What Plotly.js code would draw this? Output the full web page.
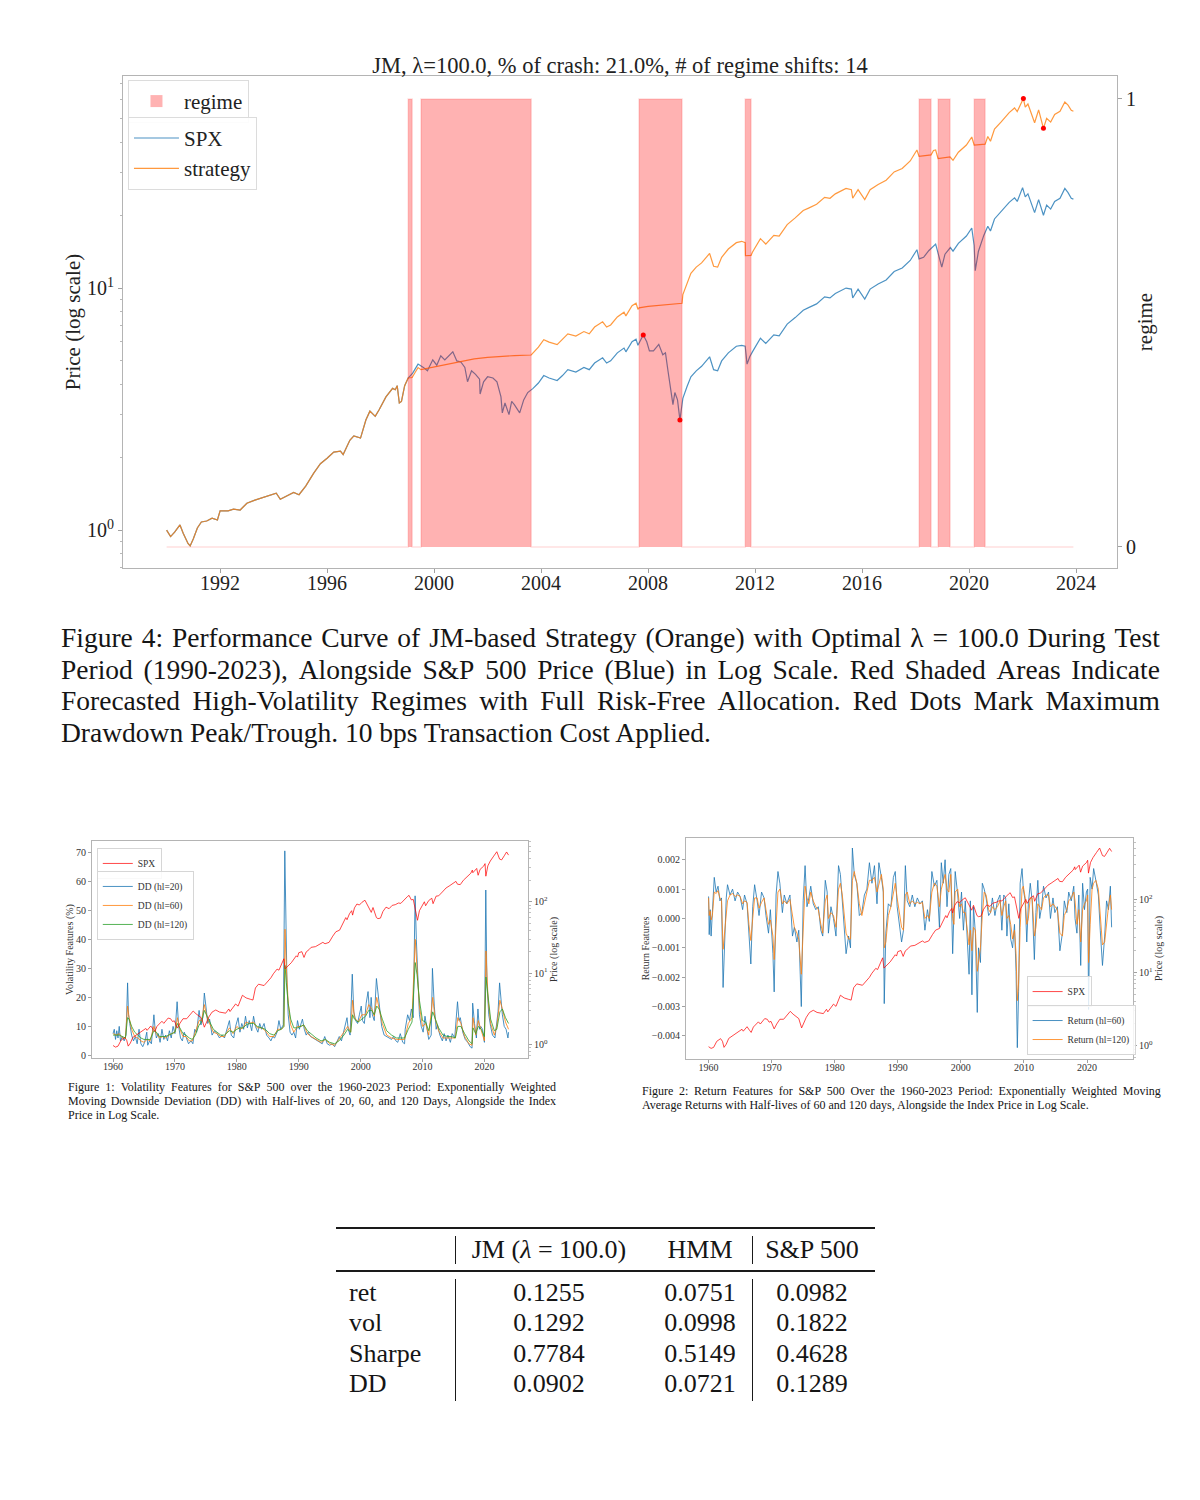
<!DOCTYPE html>
<html>
<head>
<meta charset="utf-8">
<script src="https://cdn.plot.ly/plotly-3.0.1.min.js"></script>
<style>
  html,body{margin:0;padding:0;background:#fff;}
  body{width:1200px;height:1500px;position:relative;overflow:hidden;font-family:"Liberation Serif","Times New Roman",serif;color:#151515;}
  .abs{position:absolute;}
  .cap div{white-space:nowrap;}
  .flexline{display:flex;justify-content:space-between;}
  .tc{position:absolute;text-align:center;white-space:nowrap;}
  .tl{position:absolute;text-align:left;white-space:nowrap;}
  .rule{position:absolute;background:#1a1a1a;}
</style>
</head>
<body>
<div id="main" class="abs" style="left:0;top:0;width:1200px;height:610px"></div>
<div id="cap4" class="abs cap" style="left:61px;top:622px;width:1099px;font-size:27.5px"></div>
<div id="fig1" class="abs" style="left:0;top:800px;width:600px;height:300px"></div>
<div id="fig2" class="abs" style="left:600px;top:800px;width:600px;height:300px"></div>
<div id="cap1" class="abs cap" style="left:68px;top:1080px;width:488px;font-size:12px"></div>
<div id="cap2" class="abs cap" style="left:642px;top:1084px;width:519px;font-size:12px"></div>
<div id="table" class="abs" style="left:0;top:0;width:1200px;height:1500px;font-size:26px"></div>
<script>
// ---------------- DATA: main chart (1990-2023) ----------------
const spxDates = [1990.00,1990.15,1990.30,1990.50,1990.62,1990.80,1990.88,1991.00,1991.15,1991.30,
1991.50,1991.70,1991.90,1992.00,1992.30,1992.50,1992.75,1993.00,1993.30,1993.60,
1993.90,1994.10,1994.25,1994.50,1994.75,1994.95,1995.20,1995.50,1995.75,1996.00,
1996.25,1996.50,1996.60,1996.85,1997.00,1997.25,1997.45,1997.60,1997.80,1997.95,
1998.20,1998.45,1998.55,1998.62,1998.70,1998.78,1998.90,1999.03,1999.20,1999.40,
1999.60,1999.75,1999.95,2000.10,2000.25,2000.40,2000.55,2000.70,2000.85,2001.00,
2001.15,2001.25,2001.40,2001.55,2001.70,2001.72,2001.85,2002.00,2002.20,2002.35,
2002.50,2002.55,2002.65,2002.75,2002.80,2002.90,2003.00,2003.20,2003.35,2003.50,
2003.70,2003.90,2004.10,2004.30,2004.60,2004.80,2005.00,2005.30,2005.60,2005.80,
2006.00,2006.30,2006.45,2006.60,2006.85,2007.10,2007.17,2007.40,2007.55,2007.62,
2007.82,2007.95,2008.05,2008.20,2008.40,2008.55,2008.65,2008.75,2008.85,2008.93,
2009.00,2009.10,2009.19,2009.30,2009.45,2009.60,2009.80,2010.00,2010.30,2010.45,
2010.60,2010.75,2011.00,2011.30,2011.50,2011.63,2011.70,2011.80,2011.90,2012.20,
2012.40,2012.70,2012.90,2013.20,2013.50,2013.80,2014.00,2014.30,2014.60,2014.80,
2015.00,2015.40,2015.60,2015.65,2015.85,2016.10,2016.30,2016.60,2016.90,2017.20,
2017.50,2017.80,2018.05,2018.13,2018.30,2018.50,2018.75,2018.85,2018.98,2019.10,
2019.30,2019.40,2019.60,2019.90,2020.10,2020.19,2020.23,2020.35,2020.55,2020.70,
2020.80,2020.95,2021.20,2021.50,2021.70,2021.80,2022.00,2022.10,2022.20,2022.45,
2022.60,2022.78,2022.90,2023.05,2023.20,2023.40,2023.58,2023.70,2023.82,2023.90];
const spxPrice = [1.00,0.94,0.98,1.05,0.97,0.88,0.86,0.92,1.02,1.08,
1.09,1.12,1.10,1.20,1.20,1.22,1.21,1.29,1.33,1.36,
1.40,1.42,1.34,1.38,1.43,1.40,1.52,1.72,1.88,1.98,
2.10,2.12,2.05,2.35,2.45,2.40,2.85,3.10,2.95,3.15,
3.55,3.85,3.80,3.95,3.35,3.40,3.95,4.25,4.45,4.85,
4.70,4.55,5.05,4.80,5.25,5.05,5.25,5.45,5.00,4.95,
4.70,4.10,4.55,4.40,4.20,3.65,4.10,4.30,4.25,4.10,
3.55,3.05,3.35,3.10,3.00,3.40,3.30,3.05,3.45,3.70,
3.85,4.05,4.35,4.25,4.15,4.35,4.60,4.50,4.70,4.60,
4.90,5.15,4.90,5.00,5.40,5.65,5.45,6.00,6.15,5.80,
6.40,6.00,5.50,5.50,5.85,5.30,5.40,4.50,3.80,3.30,
3.70,3.45,2.85,3.50,3.90,4.30,4.55,4.75,5.20,4.60,
4.55,5.00,5.40,5.75,5.80,5.75,4.85,5.20,5.45,6.20,
5.90,6.40,6.35,7.10,7.55,8.10,8.30,8.60,9.20,9.10,
9.50,10.00,9.90,9.10,9.90,9.00,9.90,10.40,10.80,11.70,
12.10,13.00,14.40,13.20,13.40,14.30,15.20,13.80,12.20,13.80,
14.70,14.20,15.30,16.40,17.70,15.00,11.80,14.20,16.50,18.00,
17.20,19.30,20.70,22.60,23.60,22.80,26.00,23.80,24.50,20.50,
23.20,20.00,22.00,21.20,22.80,23.50,25.80,24.80,23.50,23.30];

const stratDates = [1990.00,1990.15,1990.30,1990.50,1990.62,1990.80,1990.88,1991.00,1991.15,1991.30,
1991.50,1991.70,1991.90,1992.00,1992.30,1992.50,1992.75,1993.00,1993.30,1993.60,
1993.90,1994.10,1994.25,1994.50,1994.75,1994.95,1995.20,1995.50,1995.75,1996.00,
1996.25,1996.50,1996.60,1996.85,1997.00,1997.25,1997.45,1997.60,1997.80,1997.95,
1998.20,1998.45,1998.55,1998.62,1998.70,1998.78,1998.90,
1999.03,1999.18,1999.30,1999.40,1999.51,2000.00,2000.50,2001.00,2001.50,2002.00,
2002.50,2003.00,2003.63,2003.70,2003.90,2004.10,2004.30,2004.60,2004.80,2005.00,
2005.30,2005.60,2005.80,2006.00,2006.30,2006.45,2006.60,2006.85,2007.10,2007.17,
2007.40,2007.55,2007.62,2007.66,2008.00,2008.50,2009.00,2009.27,2009.30,2009.45,
2009.60,2009.80,2010.00,2010.30,2010.45,2010.60,2010.75,2011.00,2011.30,2011.50,
2011.63,2011.64,2011.85,2011.90,2012.20,2012.40,2012.70,2012.90,2013.20,2013.50,
2013.80,2014.00,2014.30,2014.60,2014.80,2015.00,2015.40,2015.60,2015.65,2015.85,
2016.10,2016.30,2016.60,2016.90,2017.20,2017.50,2017.80,2018.05,2018.13,2018.58,
2018.67,2018.75,2018.84,2019.29,2019.40,2019.60,2019.90,2020.10,2020.19,2020.60,
2020.70,2020.80,2020.95,2021.20,2021.50,2021.70,2021.80,2022.03,2022.10,2022.20,
2022.45,2022.60,2022.78,2022.90,2023.05,2023.20,2023.40,2023.58,2023.70,2023.82,
2023.90];
const stratValue = [1.00,0.94,0.98,1.05,0.97,0.88,0.86,0.92,1.02,1.08,
1.09,1.12,1.10,1.20,1.20,1.22,1.21,1.29,1.33,1.36,
1.40,1.42,1.34,1.38,1.43,1.40,1.52,1.72,1.88,1.98,
2.10,2.12,2.05,2.35,2.45,2.40,2.85,3.10,2.95,3.15,
3.55,3.85,3.80,3.95,3.35,3.40,3.95,
4.25,4.27,4.50,4.69,4.60,4.72,4.86,4.99,5.10,5.17,
5.22,5.26,5.29,5.40,5.70,6.12,5.98,5.84,6.12,6.47,
6.33,6.61,6.47,6.90,7.25,6.90,7.04,7.60,7.95,7.67,
8.45,8.66,8.17,8.28,8.40,8.52,8.60,8.65,9.40,10.40,
11.50,12.20,12.70,13.90,12.30,12.20,13.40,14.50,15.40,15.60,
15.40,13.60,13.65,14.06,16.00,15.20,16.50,16.40,18.30,19.50,
20.90,21.40,22.20,23.70,23.50,24.50,25.80,25.50,23.50,25.50,
23.20,25.50,26.80,27.90,30.20,31.20,33.50,37.20,35.00,35.50,
37.00,37.20,34.30,34.80,33.70,36.40,39.00,42.10,39.00,39.30,
42.30,40.40,45.40,48.60,53.10,55.50,53.60,60.70,55.90,57.60,
48.20,54.50,45.70,50.30,48.50,52.20,53.80,58.70,57.00,54.30,
53.80];

// forecasted high-volatility regime periods (regime = 1)
const regimeStart = [1999.03,1999.51,2007.66,2011.63,2018.13,2018.84,2020.19];
const regimeEnd   = [1999.18,2003.63,2009.27,2011.85,2018.58,2019.29,2020.60];

// max drawdown peak / trough markers
const spxDDDates = [2007.82, 2009.19];
const spxDDVals  = [6.40, 2.85];
const stratDDDates = [2022.03, 2022.78];
const stratDDVals  = [60.7, 45.7];

const mainXTicks = [1992,1996,2000,2004,2008,2012,2016,2020,2024];

// ---------------- DATA: Figure 1 / Figure 2 (1960-2023) ----------------
const spxLongDates = [1960.0,1960.4,1960.8,1961.3,1961.9,1962.2,1962.45,1962.8,1963.2,1963.7,
1964.2,1964.8,1965.3,1965.5,1965.9,1966.1,1966.5,1966.75,1967.1,1967.6,
1967.9,1968.2,1968.6,1968.9,1969.3,1969.6,1969.9,1970.4,1970.8,1971.3,
1971.9,1972.4,1972.95,1973.4,1973.9,1974.3,1974.75,1975.0,1975.5,1976.0,
1976.6,1977.2,1977.8,1978.2,1978.7,1978.9,1979.8,1980.2,1980.9,1981.5,
1982.2,1982.6,1983.0,1983.5,1984.4,1984.9,1985.5,1985.9,1986.5,1986.8,
1987.6,1987.8,1988.3,1988.8,1989.6,1989.8,1990.0,1990.5,1990.85,1991.2,
1991.7,1992.0,1992.7,1993.3,1993.9,1994.25,1994.9,1995.5,1996.0,1996.6,
1997.0,1997.6,1997.8,1998.2,1998.55,1998.7,1999.0,1999.4,1999.8,2000.2,
2000.7,2001.2,2001.72,2002.0,2002.55,2002.8,2003.2,2003.6,2004.1,2004.6,
2005.1,2005.6,2006.1,2006.5,2007.1,2007.55,2007.82,2008.2,2008.5,2008.85,
2009.19,2009.5,2010.0,2010.3,2010.5,2011.0,2011.5,2011.7,2012.2,2012.6,
2013.2,2013.8,2014.3,2014.8,2015.4,2015.65,2016.1,2016.6,2017.2,2017.8,
2018.05,2018.13,2018.75,2018.98,2019.3,2019.9,2020.1,2020.23,2020.55,2020.95,
2021.5,2022.0,2022.45,2022.78,2023.2,2023.58,2023.9];
const spxLongPrice = [0.97,0.92,0.95,1.15,1.25,1.15,0.95,1.05,1.26,1.35,
1.48,1.58,1.68,1.58,1.75,1.82,1.62,1.52,1.80,2.00,
2.12,1.98,2.20,2.35,2.30,2.10,2.15,1.70,1.98,2.30,
2.30,2.60,2.95,2.70,2.50,2.35,1.75,1.95,2.45,2.85,
3.05,2.85,2.75,2.75,3.15,2.90,3.70,3.45,4.90,4.50,
4.30,4.20,6.20,7.00,6.70,7.40,8.60,9.80,11.4,11.0,
15.9,11.5,12.5,14.0,17.5,16.8,19.3,20.0,16.6,19.8,
21.5,23.0,23.5,25.5,27.0,25.8,27.0,33.0,38.0,40.0,
47.0,60.0,56.0,68.0,75.0,65.0,82.0,93.0,90.0,98.0,
105,86,71,83,60,58,59,73,84,80,
89,91,96,95,109,118,123,106,108,73,
55,75,92,100,88,104,112,94,120,121,
137,156,166,176,193,176,174,200,226,251,
278,255,293,235,284,317,342,228,318,372,
436,502,396,386,440,498,450];

// Downside deviation, half-life 20 days (%)
const dd20Dates = [1960.0,1960.2,1960.4,1960.6,1960.8,1961.0,1961.2,1961.5,1961.8,1962.1,
1962.35,1962.5,1962.7,1963.0,1963.3,1963.6,1963.9,1964.2,1964.5,1964.8,
1965.1,1965.45,1965.6,1965.9,1966.2,1966.6,1966.8,1967.0,1967.3,1967.6,
1967.9,1968.2,1968.5,1968.8,1969.1,1969.4,1969.7,1970.0,1970.35,1970.6,
1970.9,1971.2,1971.5,1971.9,1972.2,1972.6,1972.9,1973.2,1973.5,1973.9,
1974.2,1974.5,1974.75,1975.0,1975.3,1975.6,1976.0,1976.4,1976.8,1977.2,
1977.6,1978.0,1978.3,1978.8,1979.1,1979.5,1979.8,1980.2,1980.5,1980.8,
1981.1,1981.4,1981.7,1982.0,1982.4,1982.7,1983.0,1983.4,1983.7,1984.0,
1984.4,1984.8,1985.2,1985.5,1985.8,1986.1,1986.5,1986.8,1987.1,1987.5,
1987.75,1987.9,1988.1,1988.3,1988.6,1988.9,1989.2,1989.5,1989.8,1990.1,
1990.6,1990.9,1991.2,1991.5,1991.9,1992.3,1992.7,1993.0,1993.4,1993.8,
1994.2,1994.6,1995.0,1995.4,1995.8,1996.2,1996.55,1996.9,1997.3,1997.8,
1998.0,1998.3,1998.65,1998.9,1999.2,1999.5,1999.8,2000.1,2000.3,2000.6,
2000.9,2001.2,2001.5,2001.7,2001.9,2002.2,2002.55,2002.8,2003.1,2003.4,
2003.8,2004.2,2004.6,2005.0,2005.3,2005.7,2006.0,2006.4,2006.8,2007.1,
2007.2,2007.6,2007.9,2008.2,2008.5,2008.8,2009.0,2009.2,2009.5,2009.8,
2010.1,2010.4,2010.7,2011.0,2011.4,2011.6,2011.9,2012.2,2012.4,2012.8,
2013.2,2013.5,2013.8,2014.1,2014.5,2014.8,2015.2,2015.65,2015.9,2016.1,
2016.5,2016.9,2017.3,2017.7,2018.0,2018.1,2018.4,2018.7,2018.95,2019.2,
2019.4,2019.7,2020.0,2020.22,2020.4,2020.7,2021.0,2021.3,2021.7,2022.0,
2022.2,2022.45,2022.7,2022.9,2023.2,2023.5,2023.8,2023.9];
const dd20 = [7.5,9.0,5.5,8.5,6.0,10.0,5.0,6.5,5.0,7.0,
25.0,14.0,11.0,7.0,5.0,6.5,4.0,9.0,4.0,3.0,
4.5,8.0,3.5,5.0,4.0,14.0,9.0,6.0,7.5,4.5,
9.0,5.5,7.0,5.0,8.5,6.0,10.0,7.5,18.5,10.0,
6.0,5.0,8.0,5.5,4.0,5.0,4.0,9.0,8.0,15.5,
10.5,13.0,21.5,17.0,11.0,12.5,7.0,8.5,7.5,6.0,
7.0,6.0,8.0,12.0,7.0,6.0,10.0,13.0,8.0,11.0,
9.0,13.5,9.5,12.0,8.5,13.5,10.0,8.0,11.0,9.0,
11.0,7.0,6.0,5.0,6.5,6.0,8.0,12.0,9.0,10.5,
70.5,45.0,25.0,14.0,8.0,7.0,8.0,6.0,12.0,9.0,
12.5,9.0,7.0,8.0,6.5,6.0,5.5,5.0,4.5,4.0,
6.5,4.0,3.5,4.0,3.0,5.0,6.5,5.0,9.0,13.0,
9.0,7.0,28.0,15.0,12.0,11.0,14.0,17.0,12.0,11.0,
18.0,22.0,13.0,20.0,14.0,12.0,26.5,21.0,16.0,10.0,
7.0,6.5,6.0,5.5,6.5,5.0,4.5,7.5,4.5,4.0,
9.0,14.0,12.0,16.0,13.0,55.0,40.0,27.0,14.0,10.0,
8.0,13.5,9.0,5.5,7.0,30.0,17.0,9.0,10.5,7.0,
5.0,7.5,5.0,7.0,4.5,7.5,6.0,18.5,12.0,13.0,
8.0,5.5,4.5,3.0,2.5,18.0,11.0,6.0,16.0,9.0,
10.0,9.0,4.5,57.0,25.0,14.0,10.0,7.0,6.0,11.0,
15.0,25.0,18.0,14.0,10.0,9.0,6.0,8.0];

// Downside deviation, half-lives 60 and 120 days (%)
const ddSlowDates = [1960.0,1960.5,1961.0,1961.5,1962.0,1962.35,1962.6,1963.0,1963.5,1964.0,
1964.5,1965.0,1965.5,1966.0,1966.6,1967.0,1967.5,1968.0,1968.5,1969.0,
1969.5,1970.0,1970.4,1970.8,1971.3,1971.8,1972.3,1972.8,1973.3,1973.9,
1974.3,1974.75,1975.2,1975.7,1976.2,1976.8,1977.4,1978.0,1978.8,1979.4,
1980.0,1980.5,1981.0,1981.5,1982.0,1982.7,1983.3,1984.0,1984.6,1985.3,
1986.0,1986.6,1987.2,1987.6,1987.78,1988.0,1988.3,1988.7,1989.2,1989.8,
1990.4,1990.8,1991.4,1992.0,1992.8,1993.6,1994.3,1995.0,1995.8,1996.5,
1997.3,1997.9,1998.4,1998.7,1999.0,1999.6,2000.2,2000.8,2001.3,2001.8,
2002.2,2002.6,2003.0,2003.5,2004.2,2005.0,2005.8,2006.5,2007.1,2007.7,
2008.3,2008.82,2009.1,2009.5,2010.0,2010.5,2011.0,2011.65,2012.0,2012.6,
2013.3,2014.0,2014.7,2015.3,2015.7,2016.2,2016.8,2017.5,2018.0,2018.15,
2018.6,2019.0,2019.5,2020.0,2020.25,2020.6,2021.0,2021.6,2022.0,2022.5,
2022.9,2023.4,2023.9];
const dd60 = [7.5,7.0,7.5,6.0,6.0,17.0,13.0,9.0,6.5,6.0,
5.0,4.5,5.5,5.0,10.0,7.5,6.0,6.5,6.0,7.0,
7.5,8.0,13.0,9.0,6.5,6.5,5.0,5.0,8.0,12.0,
12.0,17.5,13.0,10.5,8.0,7.5,6.5,6.5,9.5,7.5,
10.0,9.0,9.5,11.5,11.0,11.5,9.5,9.5,8.5,6.5,
6.5,9.0,9.0,10.0,43.5,30.0,18.0,10.5,8.0,10.0,
10.0,10.5,7.5,6.5,5.5,4.5,5.5,4.0,3.5,5.5,
8.0,10.0,8.0,19.0,13.0,11.5,14.0,14.0,17.5,16.0,
13.5,20.0,16.0,11.0,7.0,6.0,5.5,5.5,5.5,11.0,
13.0,40.0,30.0,17.0,10.0,11.0,7.0,20.0,13.0,8.5,
6.0,6.0,6.0,6.0,13.0,11.0,6.5,4.0,3.5,13.0,
7.0,12.0,8.5,5.0,36.0,19.0,11.0,7.0,10.0,19.0,
16.0,11.5,9.0];
const dd120 = [7.0,7.0,7.0,6.5,6.0,13.0,12.5,10.0,8.0,7.0,
6.0,5.5,5.5,5.5,8.5,8.0,6.5,6.5,6.5,7.0,
7.5,8.0,11.0,9.5,7.5,7.0,6.0,5.5,7.0,10.5,
11.5,15.5,13.5,11.0,9.0,8.0,7.0,7.0,8.5,8.0,
9.0,9.5,9.5,10.5,11.0,11.0,10.0,9.5,9.0,7.5,
7.0,8.5,9.0,10.0,31.0,25.0,18.0,12.5,9.5,9.5,
10.0,10.5,8.5,7.5,6.0,5.0,5.5,4.5,4.0,5.0,
7.0,9.0,8.0,14.0,12.5,11.5,12.5,13.5,15.5,15.5,
14.0,17.0,16.0,12.5,8.5,7.0,6.0,6.0,6.0,9.0,
11.5,32.0,28.0,19.0,12.0,11.5,8.5,15.0,13.0,9.5,
7.0,6.5,6.5,6.0,10.0,10.0,7.5,5.0,4.0,9.5,
7.5,10.0,9.0,6.5,27.0,19.0,12.5,8.5,9.0,15.0,
16.0,13.0,11.0];

// EW moving-average returns, half-lives 60 and 120 days
const retDates = [1960.0,1960.1,1960.25,1960.4,1960.6,1960.9,1961.2,1961.5,1961.8,1962.05,
1962.3,1962.5,1962.8,1963.0,1963.4,1963.8,1964.2,1964.6,1965.0,1965.4,
1965.7,1966.1,1966.4,1966.7,1967.0,1967.3,1967.7,1968.0,1968.4,1968.8,
1969.1,1969.5,1969.8,1970.2,1970.4,1970.7,1971.0,1971.3,1971.7,1972.0,
1972.4,1972.9,1973.3,1973.6,1974.0,1974.3,1974.7,1975.0,1975.3,1975.6,
1975.9,1976.2,1976.6,1977.0,1977.4,1977.8,1978.1,1978.5,1978.8,1979.0,
1979.4,1979.8,1980.2,1980.6,1980.9,1981.2,1981.5,1981.8,1982.2,1982.5,
1982.8,1983.1,1983.5,1983.9,1984.3,1984.7,1985.1,1985.5,1985.9,1986.3,
1986.7,1987.0,1987.4,1987.7,1987.85,1988.1,1988.5,1988.9,1989.3,1989.6,
1989.9,1990.3,1990.6,1990.9,1991.2,1991.5,1991.9,1992.3,1992.7,1993.1,
1993.5,1993.9,1994.3,1994.7,1995.0,1995.4,1995.8,1996.2,1996.6,1996.9,
1997.2,1997.5,1997.8,1998.1,1998.4,1998.7,1998.9,1999.1,1999.5,1999.8,
2000.1,2000.4,2000.7,2001.0,2001.3,2001.5,2001.75,2002.0,2002.3,2002.6,
2002.8,2003.1,2003.4,2003.7,2004.0,2004.4,2004.7,2005.0,2005.4,2005.8,
2006.2,2006.5,2006.8,2007.1,2007.3,2007.6,2007.9,2008.2,2008.5,2008.75,
2008.95,2009.15,2009.4,2009.7,2009.9,2010.2,2010.45,2010.7,2011.0,2011.3,
2011.65,2011.9,2012.2,2012.5,2012.8,2013.1,2013.5,2013.9,2014.2,2014.6,
2014.9,2015.3,2015.7,2016.1,2016.4,2016.8,2017.1,2017.5,2017.9,2018.1,
2018.4,2018.7,2019.0,2019.3,2019.6,2019.9,2020.1,2020.25,2020.5,2020.8,
2021.05,2021.4,2021.8,2022.1,2022.45,2022.8,2023.1,2023.4,2023.7,2023.9];
const ret60 = [0.00075,-0.00055,0.00030,-0.00060,0.00020,0.00140,0.00090,0.00110,0.00060,0.00070,
-0.00235,-0.00080,0.00070,0.00115,0.00080,0.00100,0.00060,0.00090,0.00075,0.00030,
0.00080,0.00050,-0.00070,-0.00155,0.00040,0.00115,0.00060,0.00010,0.00090,0.00070,
0.00010,-0.00050,0.00030,-0.00120,-0.00250,0.00080,0.00160,0.00120,0.00020,0.00080,
0.00050,0.00080,-0.00060,-0.00030,-0.00080,-0.00040,-0.00300,0.00060,0.00180,0.00040,
0.00070,0.00110,0.00050,0.00030,0.00040,-0.00040,-0.00060,0.00130,0.00090,-0.00050,
0.00040,0.00000,-0.00060,0.00180,0.00150,0.00060,-0.00040,-0.00120,-0.00060,-0.00100,
0.00240,0.00150,0.00120,0.00010,0.00020,0.00080,0.00100,0.00190,0.00120,0.00180,
0.00050,0.00190,0.00140,0.00090,-0.00290,-0.00050,0.00050,0.00040,0.00140,0.00160,
0.00040,-0.00030,-0.00080,-0.00040,0.00180,0.00060,0.00040,0.00080,0.00040,0.00070,
0.00050,0.00060,-0.00040,0.00030,-0.00010,0.00160,0.00110,0.00130,-0.00030,0.00190,
0.00120,0.00200,0.00040,0.00150,0.00170,-0.00120,0.00050,0.00160,0.00080,0.00000,
0.00090,-0.00040,0.00060,-0.00070,-0.00190,0.00060,-0.00260,0.00040,-0.00050,-0.00320,
-0.00100,-0.00150,0.00120,0.00100,0.00070,0.00010,0.00020,0.00070,0.00010,0.00060,
0.00080,-0.00040,0.00080,0.00070,-0.00060,0.00050,-0.00070,-0.00100,-0.00020,-0.00180,
-0.00440,-0.00250,0.00120,0.00170,0.00100,0.00060,-0.00080,0.00050,0.00120,0.00060,
-0.00140,0.00020,0.00130,0.00000,0.00040,0.00110,0.00070,0.00090,0.00000,0.00070,
0.00020,0.00040,-0.00110,-0.00050,0.00060,0.00020,0.00090,0.00060,0.00110,0.00000,
-0.00050,0.00080,-0.00160,0.00120,0.00030,0.00090,0.00100,-0.00310,0.00140,0.00100,
0.00170,0.00130,0.00080,-0.00040,-0.00160,-0.00060,0.00060,0.00030,0.00110,-0.00030];
const ret120 = [0.00070,0.00010,0.00025,-0.00005,0.00010,0.00090,0.00085,0.00095,0.00070,0.00060,
-0.00105,-0.00060,0.00020,0.00060,0.00080,0.00085,0.00075,0.00080,0.00075,0.00050,
0.00060,0.00055,-0.00020,-0.00075,0.00000,0.00070,0.00070,0.00035,0.00055,0.00070,
0.00030,-0.00020,-0.00005,-0.00060,-0.00140,-0.00020,0.00090,0.00100,0.00050,0.00060,
0.00050,0.00065,0.00000,-0.00030,-0.00050,-0.00070,-0.00190,-0.00030,0.00110,0.00070,
0.00050,0.00090,0.00060,0.00040,0.00030,-0.00020,-0.00050,0.00060,0.00080,0.00000,
0.00020,0.00010,-0.00030,0.00100,0.00120,0.00080,0.00000,-0.00050,-0.00070,-0.00070,
0.00130,0.00160,0.00120,0.00050,0.00010,0.00050,0.00080,0.00130,0.00130,0.00140,
0.00090,0.00120,0.00150,0.00100,-0.00100,-0.00080,0.00010,0.00040,0.00090,0.00120,
0.00070,0.00010,-0.00030,-0.00040,0.00080,0.00090,0.00050,0.00060,0.00050,0.00055,
0.00050,0.00055,0.00000,0.00010,0.00000,0.00090,0.00120,0.00110,0.00040,0.00100,
0.00130,0.00150,0.00100,0.00090,0.00150,0.00000,-0.00020,0.00090,0.00100,0.00040,
0.00050,0.00020,0.00020,-0.00030,-0.00090,-0.00040,-0.00110,-0.00030,-0.00040,-0.00180,
-0.00140,-0.00100,0.00010,0.00090,0.00080,0.00030,0.00020,0.00040,0.00030,0.00040,
0.00060,0.00010,0.00040,0.00060,0.00000,0.00010,-0.00020,-0.00070,-0.00040,-0.00120,
-0.00280,-0.00220,-0.00030,0.00100,0.00110,0.00070,-0.00020,0.00000,0.00070,0.00070,
-0.00060,-0.00030,0.00050,0.00040,0.00030,0.00070,0.00080,0.00080,0.00040,0.00050,
0.00040,0.00030,-0.00050,-0.00060,0.00010,0.00030,0.00060,0.00070,0.00090,0.00060,
-0.00020,0.00030,-0.00080,0.00030,0.00050,0.00060,0.00080,-0.00150,-0.00020,0.00100,
0.00120,0.00130,0.00100,0.00020,-0.00090,-0.00080,-0.00010,0.00040,0.00080,0.00030];

const decadeTicks = [1960,1970,1980,1990,2000,2010,2020];
const volTicks = [0,10,20,30,40,50,60,70];
const retTicks = [-0.004,-0.003,-0.002,-0.001,0,0.001,0.002];
const retTickText = ['\u22120.004','\u22120.003','\u22120.002','\u22120.001','0.000','0.001','0.002'];

// ---------------- DATA: table ----------------
const tableCols = ['JM (<i>λ</i> = 100.0)', 'HMM', 'S&amp;P 500'];
const tableRows = ['ret', 'vol', 'Sharpe', 'DD'];
const tableJM  = ['0.1255', '0.1292', '0.7784', '0.0902'];
const tableHMM = ['0.0751', '0.0998', '0.5149', '0.0721'];
const tableSPX = ['0.0982', '0.1822', '0.4628', '0.1289'];

// ---------------- TEXT ----------------
const cap4Lines = [
 'Figure 4: Performance Curve of JM-based Strategy (Orange) with Optimal λ = 100.0 During Test',
 'Period (1990-2023), Alongside S&P 500 Price (Blue) in Log Scale. Red Shaded Areas Indicate',
 'Forecasted High-Volatility Regimes with Full Risk-Free Allocation. Red Dots Mark Maximum',
 'Drawdown Peak/Trough. 10 bps Transaction Cost Applied.'];
const cap1Lines = [
 'Figure 1: Volatility Features for S&P 500 over the 1960-2023 Period: Exponentially Weighted',
 'Moving Downside Deviation (DD) with Half-lives of 20, 60, and 120 Days, Alongside the Index',
 'Price in Log Scale.'];
const cap2Lines = [
 'Figure 2: Return Features for S&P 500 Over the 1960-2023 Period: Exponentially Weighted Moving',
 'Average Returns with Half-lives of 60 and 120 days, Alongside the Index Price in Log Scale.'];

// ================= RENDER =================
const FONT = '"Liberation Serif","Times New Roman",serif';
const SPINE = '#b4b4b4';
const baseAxis = {showline:true, linecolor:SPINE, linewidth:1, mirror:true, showgrid:false, zeroline:false,
                  ticks:'outside', tickcolor:'#8a8a8a', tickwidth:0.8};
const cfg = {staticPlot:true, displayModeBar:false};

// ----- main chart -----
(function(){
  const stepX=[spxDates[0]], stepY=[0];
  regimeStart.forEach((s,i)=>{stepX.push(s,s,regimeEnd[i],regimeEnd[i]); stepY.push(0,1,1,0);});
  stepX.push(spxDates[spxDates.length-1]); stepY.push(0);

  const traces = [
    {x:spxDates, y:spxPrice, type:'scatter', mode:'lines', name:'SPX', legend:'legend2',
     line:{color:'#1f77b4', width:1.2}, opacity:0.8},
    {x:stratDates, y:stratValue, type:'scatter', mode:'lines', name:'strategy', legend:'legend2',
     line:{color:'#ff7f0e', width:1.2}, opacity:0.8},
    {x:spxDDDates, y:spxDDVals, type:'scatter', mode:'markers', showlegend:false,
     marker:{color:'#ff0000', size:5}},
    {x:stratDDDates, y:stratDDVals, type:'scatter', mode:'markers', showlegend:false,
     marker:{color:'#ff0000', size:5}},
    {x:stepX, y:stepY, type:'scatter', mode:'lines', yaxis:'y2', showlegend:false,
     line:{color:'rgba(255,0,0,0.13)', width:1.5}}
  ];
  // regime bands drawn as rectangles through the x / y2 axes
  const shapes = regimeStart.map((s,i)=>({
    type:'rect', xref:'x', yref:'y2', x0:s, x1:regimeEnd[i], y0:0, y1:1,
    fillcolor:'rgba(255,0,0,0.3)', line:{width:0}, layer:'above',
    name:'regime', showlegend:i===0, legend:'legend', legendgroup:'regime'
  }));
  const legBase = {xanchor:'left', yanchor:'top', bgcolor:'rgba(255,255,255,0.9)', bordercolor:'#dcdcdc',
                   borderwidth:1, font:{size:21, color:'#222'}, itemwidth:45, tracegroupgap:0};
  const layout = {
    width:1200, height:610, margin:{l:123, r:83, t:76, b:42, pad:0},
    paper_bgcolor:'rgba(0,0,0,0)', plot_bgcolor:'rgba(0,0,0,0)',
    font:{family:FONT, size:20, color:'#222'},
    title:{text:'JM, λ=100.0, % of crash: 21.0%, # of regime shifts: 14', font:{size:22.5, color:'#222'},
           x:0.5, xref:'paper', xanchor:'center', y:1-65/610, yref:'container', yanchor:'middle'},
    showlegend:true, shapes:shapes,
    xaxis:Object.assign({}, baseAxis, {range:[1988.37, 2025.53], tickmode:'array', tickvals:mainXTicks, ticklen:4,
           ticklabelstandoff:-7}),
    yaxis:Object.assign({}, baseAxis, {type:'log', range:[Math.log10(0.697), Math.log10(75.2)],
           tickmode:'array', tickvals:[1,10], ticktext:['10<sup>0</sup>','10<sup>1</sup>'], ticklen:4,
           minor:{tickmode:'array', tickvals:[0.7,0.8,0.9,2,3,4,5,6,7,8,9,20,30,40,50,60,70],
                  ticks:'outside', ticklen:2.5, tickcolor:'#9a9a9a', tickwidth:0.7},
           title:{text:'Price (log scale)', font:{size:21}, standoff:0}}),
    yaxis2:Object.assign({}, baseAxis, {mirror:false, overlaying:'y', side:'right', range:[-0.0469, 1.0513],
           tickmode:'array', tickvals:[0,1], ticklen:4, title:{text:'regime', font:{size:21}, standoff:2}}),
    legend:Object.assign({}, legBase, {x:0.005, y:0.992}),
    legend2:Object.assign({}, legBase, {x:0.005, y:0.917})
  };
  Plotly.newPlot('main', traces, layout, cfg);
})();

// ----- Figure 1 -----
(function(){
  const traces = [
    {x:dd20Dates, y:dd20, type:'scatter', mode:'lines', name:'DD (hl=20)', legend:'legend2',
     line:{color:'#1f77b4', width:0.9}, opacity:0.9},
    {x:ddSlowDates, y:dd60, type:'scatter', mode:'lines', name:'DD (hl=60)', legend:'legend2',
     line:{color:'#ff7f0e', width:0.9}, opacity:0.9},
    {x:ddSlowDates, y:dd120, type:'scatter', mode:'lines', name:'DD (hl=120)', legend:'legend2',
     line:{color:'#2ca02c', width:0.9}, opacity:0.9},
    {x:spxLongDates, y:spxLongPrice, type:'scatter', mode:'lines', name:'SPX', yaxis:'y2', legend:'legend',
     line:{color:'#ff0000', width:0.9}, opacity:0.8}
  ];
  const legBase = {xanchor:'left', yanchor:'top', bgcolor:'rgba(255,255,255,0.85)', bordercolor:'#d6d6d6',
                   borderwidth:1, font:{size:9.5, color:'#333'}, itemwidth:30, tracegroupgap:0};
  const layout = {
    width:600, height:300, margin:{l:92, r:72, t:41, b:42, pad:0},
    paper_bgcolor:'rgba(0,0,0,0)', plot_bgcolor:'rgba(0,0,0,0)',
    font:{family:FONT, size:10, color:'#333'}, showlegend:true,
    xaxis:Object.assign({}, baseAxis, {range:[1956.6, 2027.04], tickmode:'array', tickvals:decadeTicks, ticklen:3,
           ticklabelstandoff:-4}),
    yaxis:Object.assign({}, baseAxis, {range:[-0.9, 73.9], tickmode:'array', tickvals:volTicks, ticklen:3,
           title:{text:'Volatility Features (%)', font:{size:10}, standoff:0}}),
    yaxis2:Object.assign({}, baseAxis, {mirror:false, type:'log', overlaying:'y', side:'right',
           range:[Math.log10(0.648), 2.851], tickmode:'array', tickvals:[1,10,100],
           ticktext:['10<sup>0</sup>','10<sup>1</sup>','10<sup>2</sup>'], ticklen:3,
           minor:{tickmode:'array', tickvals:[0.7,0.8,0.9,2,3,4,5,6,7,8,9,20,30,40,50,60,70,80,90,200,300,400,500,600,700],
                  ticks:'outside', ticklen:1.8, tickcolor:'#9a9a9a', tickwidth:0.6},
           title:{text:'Price (log scale)', font:{size:10}, standoff:2}}),
    legend:Object.assign({}, legBase, {x:0.011, y:0.968}),
    legend2:Object.assign({}, legBase, {x:0.011, y:0.862})
  };
  Plotly.newPlot('fig1', traces, layout, cfg);
})();

// ----- Figure 2 -----
(function(){
  const traces = [
    {x:retDates, y:ret60, type:'scatter', mode:'lines', name:'Return (hl=60)', legend:'legend2',
     line:{color:'#1f77b4', width:0.9}, opacity:0.9},
    {x:retDates, y:ret120, type:'scatter', mode:'lines', name:'Return (hl=120)', legend:'legend2',
     line:{color:'#ff7f0e', width:0.9}, opacity:0.9},
    {x:spxLongDates, y:spxLongPrice, type:'scatter', mode:'lines', name:'SPX', yaxis:'y2', legend:'legend',
     line:{color:'#ff0000', width:0.9}, opacity:0.8}
  ];
  const legBase = {xanchor:'left', yanchor:'bottom', bgcolor:'rgba(255,255,255,0.85)', bordercolor:'#d6d6d6',
                   borderwidth:1, font:{size:9.5, color:'#333'}, itemwidth:30, tracegroupgap:0};
  const layout = {
    width:600, height:300, margin:{l:86, r:67, t:38, b:41, pad:0},
    paper_bgcolor:'rgba(0,0,0,0)', plot_bgcolor:'rgba(0,0,0,0)',
    font:{family:FONT, size:10, color:'#333'}, showlegend:true,
    xaxis:Object.assign({}, baseAxis, {range:[1956.42, 2027.29], tickmode:'array', tickvals:decadeTicks, ticklen:3,
           ticklabelstandoff:-4}),
    yaxis:Object.assign({}, baseAxis, {range:[-0.004786, 0.002741], tickmode:'array', tickvals:retTicks,
           ticktext:retTickText, ticklen:3, title:{text:'Return Features', font:{size:10}, standoff:0}}),
    yaxis2:Object.assign({}, baseAxis, {mirror:false, type:'log', overlaying:'y', side:'right',
           range:[Math.log10(0.659), 2.838], tickmode:'array', tickvals:[1,10,100],
           ticktext:['10<sup>0</sup>','10<sup>1</sup>','10<sup>2</sup>'], ticklen:3,
           minor:{tickmode:'array', tickvals:[0.7,0.8,0.9,2,3,4,5,6,7,8,9,20,30,40,50,60,70,80,90,200,300,400,500,600],
                  ticks:'outside', ticklen:1.8, tickcolor:'#9a9a9a', tickwidth:0.6},
           title:{text:'Price (log scale)', font:{size:10}, standoff:2}}),
    legend:Object.assign({}, legBase, {x:0.762, y:0.235}),
    legend2:Object.assign({}, legBase, {x:0.762, y:0.018})
  };
  Plotly.newPlot('fig2', traces, layout, cfg);
})();

// ----- captions -----
function buildCaption(id, lines, lineH){
  const el = document.getElementById(id);
  lines.forEach((ln, i)=>{
    const d = document.createElement('div');
    d.style.height = lineH + 'px';
    d.style.lineHeight = lineH + 'px';
    if (i < lines.length - 1) {
      d.className = 'flexline';
      ln.split(' ').filter(w=>w.length).forEach(w=>{
        const s = document.createElement('span'); s.textContent = w; d.appendChild(s);
      });
    } else {
      d.textContent = ln;
    }
    el.appendChild(d);
  });
}
buildCaption('cap4', cap4Lines, 31.7);
buildCaption('cap1', cap1Lines, 14);
buildCaption('cap2', cap2Lines, 14);

// ----- table -----
(function(){
  const T = document.getElementById('table');
  function rule(l,t,w,h){const d=document.createElement('div');d.className='rule';
    d.style.left=l+'px';d.style.top=t+'px';d.style.width=w+'px';d.style.height=h+'px';T.appendChild(d);}
  function txt(html, cx, cy, align){const d=document.createElement('div');
    d.className = align==='left' ? 'tl' : 'tc';
    d.style.lineHeight='30px'; d.style.height='30px'; d.style.top=(cy-15)+'px';
    if(align==='left'){d.style.left=cx+'px';} else {d.style.left=(cx-120)+'px'; d.style.width='240px';}
    d.innerHTML=html; T.appendChild(d);}
  rule(336,1227,539,1.8);
  rule(336,1270.3,539,1.3);
  rule(455,1236,1.2,28); rule(752,1236,1.2,28);
  rule(455,1279,1.2,122); rule(752,1279,1.2,122);
  const colX = [549, 700, 812];
  tableCols.forEach((c,i)=>txt(c, colX[i], 1250, 'center'));
  const rowY = [1293, 1323, 1354, 1384];
  tableRows.forEach((r,i)=>{
    txt(r, 349, rowY[i], 'left');
    txt(tableJM[i], colX[0], rowY[i], 'center');
    txt(tableHMM[i], colX[1], rowY[i], 'center');
    txt(tableSPX[i], colX[2], rowY[i], 'center');
  });
})();
</script>
</body>
</html>
